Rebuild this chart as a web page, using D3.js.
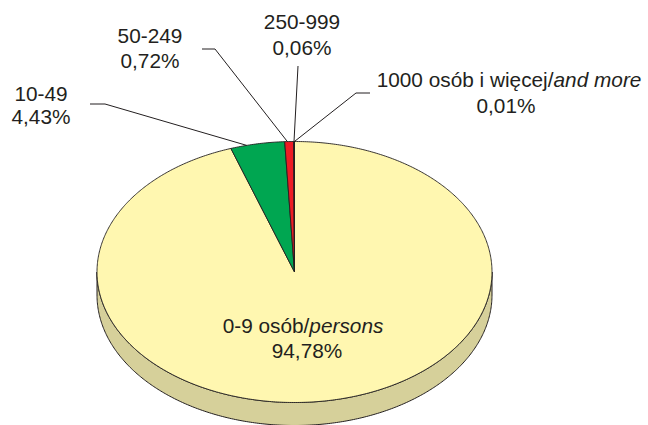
<!DOCTYPE html>
<html>
<head>
<meta charset="utf-8">
<script src="https://cdn.jsdelivr.net/npm/d3@7"></script>
<style>
  html, body { margin: 0; padding: 0; background: #fff; }
  svg { display: block; }
  text { font-family: "Liberation Sans", Arial, sans-serif; font-size: 20.8px; fill: #231F20; }
</style>
</head>
<body>
<svg id="chart" width="648" height="425"></svg>
<script>
// ---- data ----
const categories = ["0-9 osób/", "10-49", "50-249", "250-999", "1000 osób i więcej/"];
const italicParts = ["persons", "", "", "", "and more"];
const shares = [94.78, 4.43, 0.72, 0.06, 0.01];
const valueLabels = ["94,78%", "4,43%", "0,72%", "0,06%", "0,01%"];
const topColors = ["#FFF7B0", "#00A651", "#ED1C24", "#ED1C24", "#ED1C24"];
const sideColors = ["#D6D09A", "#007A3A", "#A8141A", "#A8141A", "#A8141A"];

// ---- layout ----
const W = 648, H = 425;
const cx = 294.5, cy = 272, rx = 197.5, ry = 130.5, depth = 23;
// label layout: line centres, leader elbow points, anchor position within slice
const labelLayout = [
  { l1: [303, 333], l2: [307, 358], leader: null, anchor: 0.5 },
  { l1: [41, 101], l2: [41, 124], leader: [[90, 104], [105, 104]], anchor: 0.3 },
  { l1: [150, 43], l2: [150, 68], leader: [[202, 49], [215, 49]], anchor: 0.3 },
  { l1: [302, 29], l2: [302, 55], leader: [[298, 66]], anchor: 0.5 },
  { l1: [509, 87], l2: [506, 113], leader: [[370, 93], [356, 93]], anchor: 0.5 }
];

const svg = d3.select("#chart");
const pie = d3.pie().sort(null).value(d => d)(shares);

const px = a => cx + rx * Math.sin(a);
const py = a => cy - ry * Math.cos(a);

function arcPoints(a0, a1, dy) {
  const n = Math.max(2, Math.ceil(Math.abs(a1 - a0) / 0.01));
  const pts = [];
  for (let i = 0; i <= n; i++) {
    const a = a0 + (a1 - a0) * i / n;
    pts.push([px(a), py(a) + dy]);
  }
  return pts;
}
const line = d3.line();

// side walls (front half only: angles between PI/2 and 3PI/2)
const sideG = svg.append("g");
pie.forEach((d, i) => {
  const a0 = Math.max(d.startAngle, Math.PI / 2);
  const a1 = Math.min(d.endAngle, 3 * Math.PI / 2);
  if (a1 <= a0) return;
  const top = arcPoints(a0, a1, 0);
  const bot = arcPoints(a1, a0, depth);
  sideG.append("path")
    .attr("d", line(top.concat(bot)) + "Z")
    .attr("fill", sideColors[i])
    .attr("stroke", "#231F20")
    .attr("stroke-width", 1)
    .attr("stroke-linejoin", "round");
});

// top faces
const topG = svg.append("g");
pie.forEach((d, i) => {
  const pts = [[cx, cy]].concat(arcPoints(d.startAngle, d.endAngle, 0));
  topG.append("path")
    .attr("d", line(pts) + "Z")
    .attr("fill", topColors[i])
    .attr("stroke", "#231F20")
    .attr("stroke-width", 0.9)
    .attr("stroke-linejoin", "round");
});

// leader lines
const leadG = svg.append("g");
pie.forEach((d, i) => {
  const L = labelLayout[i];
  if (!L.leader) return;
  const a = d.startAngle + (d.endAngle - d.startAngle) * L.anchor;
  const pts = L.leader.concat([[px(a), py(a)]]);
  leadG.append("path")
    .attr("d", line(pts))
    .attr("fill", "none")
    .attr("stroke", "#231F20")
    .attr("stroke-width", 1);
});

// labels
const textG = svg.append("g");
pie.forEach((d, i) => {
  const L = labelLayout[i];
  const t1 = textG.append("text")
    .attr("x", L.l1[0]).attr("y", L.l1[1])
    .attr("text-anchor", "middle");
  t1.append("tspan").text(categories[i]);
  if (italicParts[i]) t1.append("tspan").attr("font-style", "italic").text(italicParts[i]);
  textG.append("text")
    .attr("x", L.l2[0]).attr("y", L.l2[1])
    .attr("text-anchor", "middle")
    .text(valueLabels[i]);
});
</script>
</body>
</html>
